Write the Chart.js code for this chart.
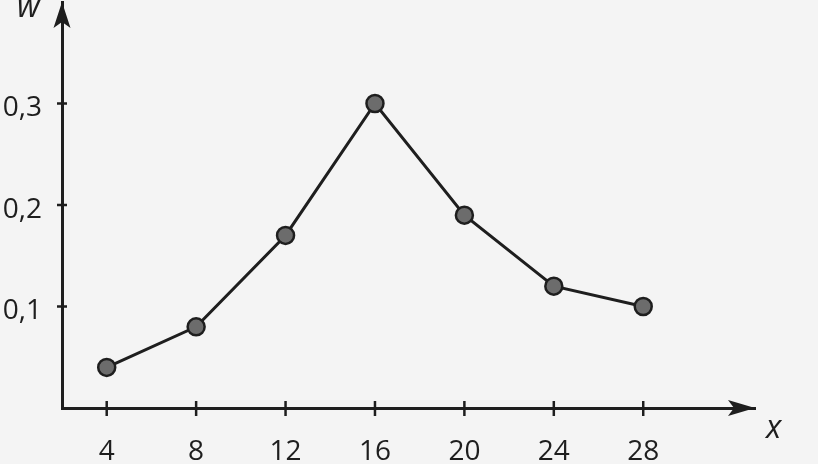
<!DOCTYPE html>
<html>
<head>
<meta charset="utf-8">
<script src="https://cdn.jsdelivr.net/npm/chart.js@4.4.0/dist/chart.umd.min.js"></script>
<style>
  html, body { margin: 0; padding: 0; background: #f4f4f4; }
  canvas { display: block; }
</style>
</head>
<body>
<canvas id="chart" width="818" height="464"></canvas>
<script>
// values
const xValues = [4, 8, 12, 16, 20, 24, 28];
const wValues = [0.04, 0.08, 0.17, 0.30, 0.19, 0.12, 0.10];
const xTicks = [4, 8, 12, 16, 20, 24, 28];
const yTicks = [0.1, 0.2, 0.3];
const xName = 'x';
const yName = 'w';

const ink = '#1e1e1e';
const fontFamily = '"Open Sans", "Noto Sans", sans-serif';

// arrows, crossing tick marks and axis letters
const axisDecor = {
  id: 'axisDecor',
  afterDraw(chart) {
    const { ctx, chartArea, scales } = chart;
    const xs = scales.x, ys = scales.y;
    const x0 = chartArea.left, y0 = chartArea.bottom;
    ctx.save();
    ctx.strokeStyle = ink;
    ctx.fillStyle = ink;
    ctx.lineWidth = 2.5;

    xs.ticks.forEach(t => {
      const px = xs.getPixelForValue(t.value);
      ctx.beginPath();
      ctx.moveTo(px, y0 - 7);
      ctx.lineTo(px, y0 + 8);
      ctx.stroke();
    });
    ys.ticks.forEach(t => {
      const py = ys.getPixelForValue(t.value);
      ctx.beginPath();
      ctx.moveTo(x0 - 5, py);
      ctx.lineTo(x0 + 5, py);
      ctx.stroke();
    });

    // x arrow
    const xr = chartArea.right;
    ctx.beginPath();
    ctx.moveTo(xr, y0);
    ctx.lineTo(xr - 27, y0 - 8);
    ctx.lineTo(xr - 21, y0);
    ctx.lineTo(xr - 27, y0 + 8);
    ctx.closePath();
    ctx.fill();

    // y arrow
    const yt = chartArea.top;
    ctx.beginPath();
    ctx.moveTo(x0, yt);
    ctx.lineTo(x0 - 8.5, yt + 26);
    ctx.lineTo(x0, yt + 20);
    ctx.lineTo(x0 + 8.5, yt + 26);
    ctx.closePath();
    ctx.fill();

    ctx.font = 'italic 32px ' + fontFamily;
    ctx.textAlign = 'left';
    ctx.textBaseline = 'alphabetic';
    ctx.fillText(yName, 17, 17);
    ctx.fillText(xName, 766, 438);
    ctx.restore();
  }
};

new Chart(document.getElementById('chart'), {
  type: 'line',
  data: {
    datasets: [{
      data: xValues.map((x, i) => ({ x: x, y: wValues[i] })),
      borderColor: ink,
      borderWidth: 3,
      tension: 0,
      pointRadius: 8.5,
      pointBackgroundColor: '#6c6c6c',
      pointBorderColor: ink,
      pointBorderWidth: 2.5,
      clip: false
    }]
  },
  options: {
    responsive: false,
    devicePixelRatio: 1,
    animation: false,
    layout: { autoPadding: false, padding: { top: 2, right: 63, left: 0, bottom: 0 } },
    plugins: { legend: { display: false }, tooltip: { enabled: false } },
    scales: {
      x: {
        type: 'linear',
        min: 2,
        max: 33,
        afterBuildTicks: s => { s.ticks = xTicks.map(v => ({ value: v })); },
        afterFit: s => { s.height = 56; s.paddingLeft = 0; s.paddingRight = 0; },
        grid: { display: false, drawTicks: false },
        border: { display: true, color: ink, width: 3 },
        ticks: {
          color: ink,
          font: { family: fontFamily, size: 28 },
          padding: 27,
          maxRotation: 0,
          autoSkip: false
        }
      },
      y: {
        type: 'linear',
        min: 0,
        max: 0.4,
        afterBuildTicks: s => { s.ticks = yTicks.map(v => ({ value: v })); },
        afterFit: s => { s.width = 62; s.paddingTop = 0; s.paddingBottom = 0; },
        grid: { display: false, drawTicks: false },
        border: { display: true, color: ink, width: 3 },
        ticks: {
          color: ink,
          font: { family: fontFamily, size: 28 },
          padding: 20,
          labelOffset: 5,
          callback: v => v.toFixed(1).replace('.', ',')
        }
      }
    }
  },
  plugins: [axisDecor]
});
</script>
</body>
</html>
